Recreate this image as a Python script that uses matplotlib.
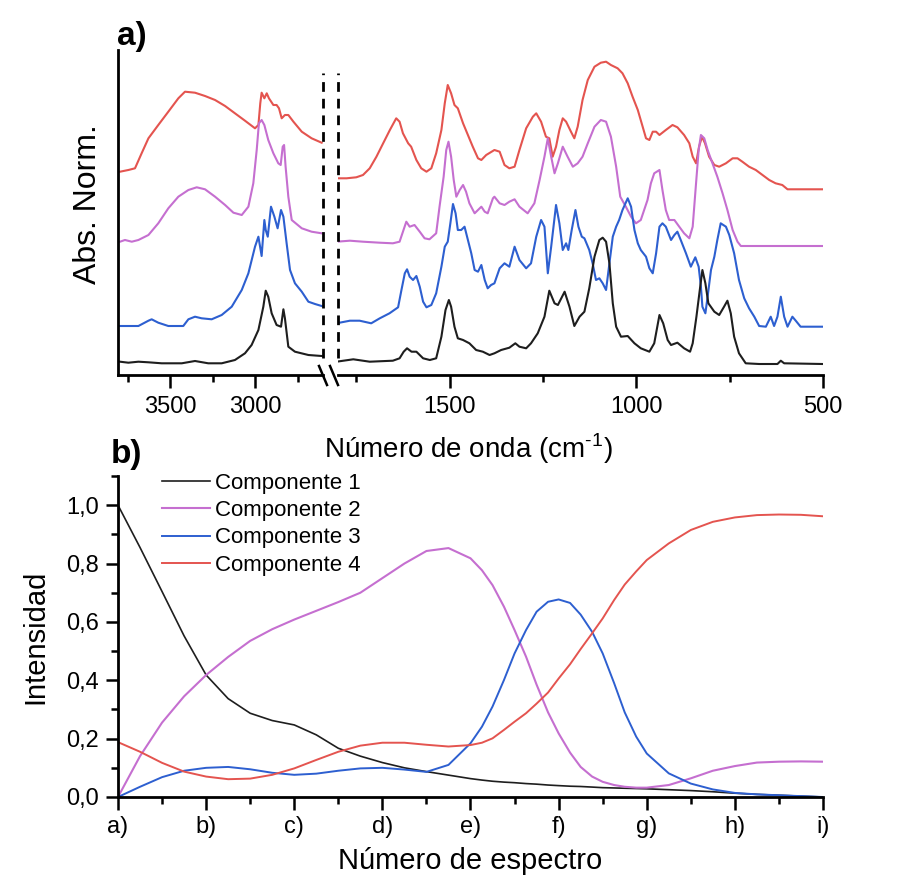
import numpy as np
import matplotlib.pyplot as plt
from matplotlib.lines import Line2D
from matplotlib.ticker import FixedLocator, MultipleLocator

plt.rcParams['font.family'] = ['Liberation Sans', 'DejaVu Sans']

# ---- a) espectros IR (número de onda, absorbancia normalizada + desplazamiento) ----
black_wn = [3794, 3745, 3686, 3627, 3549, 3431, 3353, 3275, 3196, 3118, 3059, 3020, 2980, 2951, 2937,
            2922, 2902, 2873, 2847, 2833, 2824, 2804, 2765, 2686, 2608,
            1803, 1758, 1714, 1652, 1634, 1623, 1614, 1602, 1589, 1571, 1553, 1536, 1522, 1511, 1502,
            1496, 1487, 1478, 1464, 1447, 1429, 1411, 1393,
            1380, 1362, 1340, 1324, 1313, 1295, 1282, 1264, 1246, 1233, 1219, 1210, 1192, 1179, 1166,
            1152, 1139, 1126, 1112, 1099, 1090, 1081, 1072, 1063, 1054, 1041, 1023, 1005, 988, 965, 952,
            938, 928, 916, 907, 890, 872, 856, 849, 839, 830, 823, 815, 807, 791, 778, 765, 756, 747,
            738, 725, 707, 671, 622, 613, 604, 502]
black_abs = [0.133, 0.123, 0.133, 0.127, 0.117, 0.117, 0.14, 0.117, 0.117, 0.15, 0.217, 0.30, 0.45, 0.683, 0.843,
             0.783, 0.617, 0.50, 0.483, 0.657, 0.567, 0.283, 0.233, 0.20, 0.19,
             0.133, 0.157, 0.133, 0.143, 0.167, 0.233, 0.267, 0.233, 0.233, 0.167, 0.15, 0.167, 0.383, 0.65, 0.75,
             0.683, 0.483, 0.367, 0.35, 0.317, 0.25, 0.233, 0.20,
             0.217, 0.25, 0.273, 0.317, 0.283, 0.267, 0.317, 0.417, 0.583, 0.843, 0.717, 0.70, 0.833, 0.683, 0.49,
             0.583, 0.633, 0.867, 1.183, 1.35, 1.373, 1.333, 1.117, 0.717, 0.483, 0.383, 0.39, 0.317, 0.267, 0.233, 0.317,
             0.60, 0.517, 0.35, 0.30, 0.323, 0.267, 0.233, 0.317, 0.583, 0.85, 1.05, 0.917, 0.717, 0.633, 0.60, 0.683, 0.743, 0.617,
             0.383, 0.217, 0.117, 0.11, 0.11, 0.143, 0.117, 0.11]

blue_wn = [3794, 3745, 3686, 3627, 3608, 3569, 3510, 3422, 3392, 3353, 3314, 3255, 3196, 3137, 3078, 3039, 3000,
           2980, 2961, 2945, 2937, 2925, 2906, 2886, 2867, 2847, 2833, 2814, 2794, 2765, 2725, 2686, 2647, 2608,
           1803, 1767, 1741, 1710, 1687, 1661, 1638, 1629, 1620, 1614, 1607, 1598, 1589, 1580, 1571, 1562, 1549,
           1536, 1522, 1513, 1505, 1498, 1491, 1484, 1478, 1469, 1460, 1451, 1442, 1433, 1424, 1415, 1406, 1398, 1389,
           1380, 1366, 1353, 1340, 1326, 1313, 1295, 1282, 1268, 1255, 1246, 1237, 1228, 1215, 1206, 1197, 1188,
           1182, 1173, 1163, 1155, 1146, 1139, 1126, 1117, 1108, 1099, 1090, 1081, 1072, 1063, 1054, 1046, 1037,
           1023, 1014, 1005, 996, 988, 974, 965, 956, 947,
           938, 930, 921, 907, 898, 890, 881, 867, 854, 842, 833, 827, 823, 815, 809, 800, 791, 783, 774, 760,
           751, 738, 725, 711, 698, 684, 671, 653, 640, 631, 622, 613, 604, 595, 582, 573, 560, 502]
blue_abs = [0.49, 0.49, 0.49, 0.543, 0.557, 0.523, 0.49, 0.49, 0.557, 0.583, 0.567, 0.557, 0.60, 0.683, 0.85, 1.017, 1.283,
            1.383, 1.19, 1.55, 1.45, 1.383, 1.683, 1.583, 1.467, 1.65, 1.583, 1.317, 1.05, 0.917, 0.833, 0.733, 0.71, 0.69,
            0.517, 0.543, 0.543, 0.517, 0.567, 0.617, 0.677, 0.85, 1.017, 1.057, 0.983, 0.95, 0.99, 0.883, 0.733, 0.677, 0.70,
            0.817, 1.083, 1.283, 1.333, 1.517, 1.71, 1.617, 1.45, 1.45, 1.483, 1.35, 1.217, 1.05, 1.033, 1.10, 0.95, 0.867, 0.90,
            0.917, 1.067, 1.117, 1.083, 1.283, 1.15, 1.067, 1.117, 1.383, 1.55, 1.483, 1.017, 1.283, 1.70, 1.517, 1.25, 1.317,
            1.25, 1.45, 1.65, 1.483, 1.383, 1.367, 1.25, 1.117, 0.95, 0.967, 0.917, 0.85, 1.117, 1.383, 1.483, 1.55, 1.65,
            1.767, 1.683, 1.45, 1.317, 1.25, 1.183, 1.067, 1.017, 1.217,
            1.483, 1.517, 1.483, 1.35, 1.40, 1.433, 1.35, 1.217, 1.083, 1.177, 1.083, 0.883, 0.683, 0.617, 0.783, 1.05, 1.183, 1.35, 1.517, 1.483,
            1.40, 1.217, 0.95, 0.767, 0.667, 0.583, 0.49, 0.483, 0.583, 0.49, 0.583, 0.783, 0.583, 0.483, 0.583, 0.543, 0.483, 0.483]

magenta_wn = [3794, 3765, 3725, 3686, 3627, 3569, 3510, 3451, 3392, 3343, 3294, 3235, 3176, 3127, 3078, 3039, 3010,
              2990, 2977, 2961, 2945, 2922, 2892, 2863, 2849, 2837, 2829, 2820, 2804, 2784, 2725, 2667, 2608,
              1803, 1767, 1732, 1687, 1652, 1634, 1625, 1616, 1607, 1594, 1580, 1567, 1554, 1536, 1527, 1516,
              1509, 1503, 1496, 1489, 1482, 1473, 1464, 1456, 1447, 1433, 1424, 1415, 1406, 1398, 1384,
              1380, 1366, 1353, 1340, 1326, 1313, 1291, 1273, 1259, 1246, 1237, 1228, 1219, 1210, 1197, 1184,
              1170, 1157, 1144, 1130, 1112, 1095, 1081, 1068, 1054, 1043, 1028, 1014, 1001, 988, 970, 961, 952,
              938, 930, 921, 912, 898, 885, 872, 858, 849, 840, 833, 827, 818, 809, 796, 783, 769, 756, 742, 729, 720, 502]
magenta_abs = [1.333, 1.35, 1.333, 1.35, 1.40, 1.517, 1.667, 1.783, 1.85, 1.877, 1.857, 1.783, 1.70, 1.623, 1.60, 1.683, 1.917,
               2.25, 2.517, 2.55, 2.50, 2.35, 2.217, 2.117, 2.10, 2.283, 2.30, 2.083, 1.783, 1.55, 1.467, 1.433, 1.417,
               1.333, 1.343, 1.333, 1.323, 1.317, 1.333, 1.433, 1.533, 1.483, 1.50, 1.433, 1.367, 1.357, 1.417, 1.683, 1.983,
               2.25, 2.333, 2.183, 1.95, 1.783, 1.85, 1.90, 1.833, 1.717, 1.617, 1.65, 1.683, 1.633, 1.617, 1.767,
               1.783, 1.717, 1.70, 1.733, 1.757, 1.683, 1.617, 1.717, 1.95, 2.183, 2.367, 2.183, 2.017, 2.117, 2.283, 2.183,
               2.083, 2.117, 2.183, 2.317, 2.483, 2.55, 2.533, 2.383, 2.083, 1.783, 1.683, 1.583, 1.517, 1.55, 1.75, 1.917, 2.017,
               2.05, 1.85, 1.65, 1.55, 1.55, 1.483, 1.417, 1.367, 1.483, 1.917, 2.25, 2.40, 2.367, 2.25, 2.117, 1.983, 1.817, 1.65, 1.45, 1.333, 1.29, 1.29]

red_wn = [3794, 3745, 3706, 3667, 3627, 3569, 3510, 3451, 3412, 3353, 3294, 3235, 3176, 3118, 3059, 3000,
          2980, 2969, 2961, 2945, 2931, 2918, 2892, 2873, 2859, 2843, 2824, 2804, 2774, 2725, 2667, 2608,
          1803, 1776, 1750, 1732, 1714, 1696, 1678, 1660, 1643, 1634, 1625, 1611, 1603, 1589, 1576, 1562,
          1549, 1536, 1522, 1513, 1505, 1496, 1487, 1478, 1464, 1451, 1438, 1424, 1415, 1402,
          1380, 1366, 1353, 1340, 1326, 1313, 1295, 1277, 1268, 1255, 1242, 1233, 1224, 1215, 1206, 1197, 1188,
          1175, 1166, 1157, 1144, 1130, 1112, 1095, 1081, 1068, 1050, 1037, 1023, 1010, 996, 983, 974, 965, 956, 947,
          938, 921, 903, 890, 872, 858, 849, 840, 832, 824, 816, 805, 791, 778, 760, 742, 729, 716, 698, 680,
          662, 644, 627, 609, 595, 502]
red_abs = [2.033, 2.05, 2.067, 2.217, 2.367, 2.50, 2.633, 2.767, 2.833, 2.823, 2.79, 2.75, 2.69, 2.617, 2.543, 2.467,
           2.50, 2.717, 2.823, 2.767, 2.817, 2.767, 2.70, 2.70, 2.667, 2.567, 2.60, 2.60, 2.533, 2.433, 2.367, 2.323,
           1.967, 1.967, 1.977, 2.00, 2.067, 2.183, 2.317, 2.45, 2.567, 2.533, 2.417, 2.317, 2.283, 2.15, 2.067, 2.033,
           2.067, 2.217, 2.45, 2.717, 2.90, 2.817, 2.70, 2.667, 2.517, 2.40, 2.283, 2.167, 2.15, 2.20,
           2.25, 2.233, 2.10, 2.067, 2.083, 2.25, 2.467, 2.583, 2.617, 2.533, 2.383, 2.367, 2.183, 2.283, 2.45, 2.567, 2.533,
           2.433, 2.367, 2.483, 2.75, 2.95, 3.083, 3.123, 3.133, 3.10, 3.067, 3.017, 2.917, 2.783, 2.65, 2.483, 2.367, 2.35, 2.433, 2.433,
           2.40, 2.45, 2.50, 2.477, 2.40, 2.317, 2.183, 2.117, 2.283, 2.383, 2.317, 2.183, 2.10, 2.083, 2.117, 2.167, 2.167, 2.133, 2.083, 2.05,
           2.00, 1.95, 1.917, 1.90, 1.857, 1.857]

# ---- b) perfiles de concentración ----
espectro_labels = ['a)', 'b)', 'c)', 'd)', 'e)', 'f)', 'g)', 'h)', 'i)']
espectro_x = [0, 0.25, 0.5, 0.75, 1.0, 1.25, 1.5, 1.75, 2.0, 2.25, 2.5, 2.75, 3.0, 3.25, 3.5, 3.75,
              4.0, 4.13, 4.25, 4.38, 4.5, 4.63, 4.75, 4.88, 5.0, 5.13, 5.25, 5.38, 5.5, 5.63, 5.75, 5.88,
              6.0, 6.25, 6.5, 6.75, 7.0, 7.25, 7.5, 7.75, 8.0]
comp1 = [1.0, 0.855, 0.704, 0.552, 0.418, 0.337, 0.287, 0.262, 0.247, 0.213, 0.167, 0.14, 0.118, 0.10, 0.087, 0.075,
         0.063, 0.058, 0.054, 0.051, 0.049, 0.046, 0.044, 0.041, 0.039, 0.037, 0.036, 0.034, 0.032, 0.031, 0.030, 0.029,
         0.028, 0.025, 0.022, 0.018, 0.013, 0.009, 0.006, 0.003, 0.0]
comp2 = [0.0, 0.14, 0.255, 0.345, 0.418, 0.48, 0.535, 0.575, 0.608, 0.638, 0.668, 0.70, 0.75, 0.80, 0.843, 0.853,
         0.818, 0.777, 0.726, 0.652, 0.572, 0.481, 0.385, 0.29, 0.218, 0.152, 0.103, 0.07, 0.052, 0.041, 0.035, 0.032,
         0.032, 0.041, 0.064, 0.09, 0.106, 0.118, 0.121, 0.122, 0.121]
comp3 = [0.0, 0.035, 0.068, 0.09, 0.10, 0.103, 0.095, 0.083, 0.076, 0.08, 0.09, 0.098, 0.10, 0.094, 0.086, 0.11,
         0.184, 0.241, 0.31, 0.401, 0.492, 0.572, 0.635, 0.669, 0.677, 0.665, 0.625, 0.566, 0.492, 0.39, 0.29, 0.207,
         0.149, 0.081, 0.046, 0.026, 0.014, 0.009, 0.006, 0.003, 0.0]
comp4 = [0.188, 0.155, 0.117, 0.087, 0.070, 0.061, 0.063, 0.076, 0.098, 0.127, 0.155, 0.176, 0.186, 0.186, 0.179, 0.173,
         0.178, 0.186, 0.201, 0.23, 0.258, 0.287, 0.32, 0.358, 0.406, 0.455, 0.507, 0.561, 0.612, 0.675, 0.728, 0.773,
         0.812, 0.869, 0.915, 0.943, 0.958, 0.966, 0.968, 0.967, 0.962]

C_BLACK = '#1e1e1e'
C_MAG = '#c56fd0'
C_BLUE = '#2d5fd0'
C_RED = '#e4544f'

W, H = 909, 884
fig = plt.figure(figsize=(W / 100, H / 100), dpi=100)


def fx(px):
    return px / W


def fy(py):
    return 1 - py / H


# --- panel a: eje x partido ---
ax_hi = fig.add_axes([fx(118), fy(375), (323 - 118) / W, 325 / H])
ax_lo = fig.add_axes([fx(337.6), fy(375), (823 - 337.6) / W, 325 / H])

for wn, ab, col in [(red_wn, red_abs, C_RED), (magenta_wn, magenta_abs, C_MAG),
                    (blue_wn, blue_abs, C_BLUE), (black_wn, black_abs, C_BLACK)]:
    wn = np.array(wn, dtype=float)
    ab = np.array(ab, dtype=float)
    hi = wn > 2000
    ax_hi.plot(wn[hi], ab[hi], color=col, lw=1.5)
    ax_lo.plot(wn[~hi], ab[~hi], color=col, lw=1.5)

ax_hi.set_xlim(3806, 2600)
ax_lo.set_xlim(1800, 500)
for ax in (ax_hi, ax_lo):
    ax.set_ylim(0, 3.25)
    ax.set_yticks([])
    ax.spines['top'].set_visible(False)
    ax.spines['right'].set_visible(False)
    ax.spines['bottom'].set_linewidth(2.0)
    ax.spines['left'].set_linewidth(2.0)
    ax.tick_params(axis='x', which='major', direction='out', length=9, width=1.8,
                   labelsize=17, pad=6)
    ax.tick_params(axis='x', which='minor', direction='out', length=5, width=1.8)
ax_lo.spines['left'].set_visible(False)

ax_hi.xaxis.set_major_locator(FixedLocator([3500, 3000]))
ax_hi.xaxis.set_minor_locator(FixedLocator([3750, 3250, 2750]))
ax_lo.xaxis.set_major_locator(FixedLocator([1500, 1000, 500]))
ax_lo.xaxis.set_minor_locator(FixedLocator([1750, 1250, 750]))

# líneas discontinuas del corte
ax_hi.axvline(2600, ymin=(375 - 358) / 325, ymax=(375 - 73) / 325, color='black',
              lw=2.0, ls=(0, (3.5, 2.5)), clip_on=False)
ax_lo.axvline(1800, ymin=(375 - 358) / 325, ymax=(375 - 73) / 325, color='black',
              lw=2.0, ls=(0, (3.5, 2.5)), clip_on=False)

# marcas de corte en el eje x
for xc in (323, 334):
    fig.add_artist(Line2D([fx(xc - 4), fx(xc + 4)], [fy(366), fy(385)],
                          color='black', lw=1.8))

fig.text(fx(88), fy(204), 'Abs. Norm.', fontsize=23, rotation=90,
         ha='center', va='center')
fig.text(fx(468), fy(449), 'Número de onda (cm$^{\\mathregular{\u20101}}$)', fontsize=20,
         ha='center', va='center')
fig.text(fx(117), fy(36), 'a)', fontsize=24, fontweight='bold', ha='left', va='center')

# --- panel b ---
ax_b = fig.add_axes([fx(118), fy(797), (823 - 118) / W, 321 / H])
ax_b.plot(espectro_x, comp1, color=C_BLACK, lw=1.2, label='Componente 1')
ax_b.plot(espectro_x, comp2, color=C_MAG, lw=1.5, label='Componente 2')
ax_b.plot(espectro_x, comp3, color=C_BLUE, lw=1.4, label='Componente 3')
ax_b.plot(espectro_x, comp4, color=C_RED, lw=1.4, label='Componente 4')

ax_b.set_xlim(0, 8)
ax_b.set_ylim(0, 1.1)
ax_b.set_xticks(range(len(espectro_labels)))
ax_b.set_xticklabels(espectro_labels)
ax_b.xaxis.set_minor_locator(MultipleLocator(0.5))
ax_b.set_yticks([0, 0.2, 0.4, 0.6, 0.8, 1.0])
ax_b.set_yticklabels(['0,0', '0,2', '0,4', '0,6', '0,8', '1,0'])
ax_b.yaxis.set_minor_locator(MultipleLocator(0.1))
ax_b.spines['top'].set_visible(False)
ax_b.spines['right'].set_visible(False)
ax_b.spines['bottom'].set_linewidth(2.0)
ax_b.spines['left'].set_linewidth(2.0)
ax_b.tick_params(which='major', direction='out', length=9, width=1.8, labelsize=17)
ax_b.tick_params(which='minor', direction='out', length=5, width=1.8)
ax_b.tick_params(axis='x', pad=5)
ax_b.tick_params(axis='y', pad=5)

ax_b.set_ylabel('Intensidad', fontsize=21, labelpad=12)
ax_b.set_xlabel('Número de espectro', fontsize=21, labelpad=6)
fig.text(fx(111), fy(455), 'b)', fontsize=24, fontweight='bold', ha='left', va='center')

ax_b.legend(loc='upper left', bbox_to_anchor=(fx(162), fy(473)),
            bbox_transform=fig.transFigure, frameon=False, fontsize=16,
            handlelength=2.15, handletextpad=0.25, labelspacing=0.28,
            borderpad=0, borderaxespad=0)

fig.savefig('out.png', dpi=100)
